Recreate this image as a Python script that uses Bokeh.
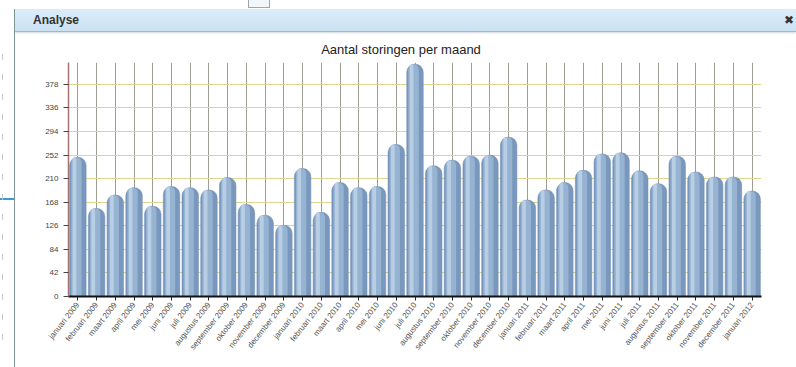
import math
from bokeh.plotting import figure
from bokeh.models import FactorRange, Range1d, FixedTicker, ColumnDataSource, Div
from bokeh.layouts import row, column
from bokeh.transform import dodge
from bokeh.embed import file_html
from bokeh.resources import INLINE

categories = [
    "januari 2009", "februari 2009", "maart 2009", "april 2009", "mei 2009", "juni 2009",
    "juli 2009", "augustus 2009", "september 2009", "oktober 2009", "november 2009", "december 2009",
    "januari 2010", "februari 2010", "maart 2010", "april 2010", "mei 2010", "juni 2010",
    "juli 2010", "augustus 2010", "september 2010", "oktober 2010", "november 2010", "december 2010",
    "januari 2011", "februari 2011", "maart 2011", "april 2011", "mei 2011", "juni 2011",
    "juli 2011", "augustus 2011", "september 2011", "oktober 2011", "november 2011", "december 2011",
    "januari 2012",
]
values = [248, 157, 181, 194, 161, 196, 194, 190, 212, 164, 145, 127,
          228, 150, 203, 194, 196, 271, 414, 233, 243, 250, 252, 284,
          172, 190, 203, 225, 254, 256, 224, 201, 250, 222, 213, 213,
          188]
y_ticks = [0, 42, 84, 126, 168, 210, 252, 294, 336, 378]
dialog_title = "Analyse"
chart_title = "Aantal storingen per maand"

W, H = 796, 367
LEFT_W = 15          # left strip width
HEAD_H = 62          # header (dialog bar + chart title) height
FIG_W, FIG_H = W - LEFT_W, H - HEAD_H
FL, FR, FB = 68, 761, 296  # frame edges in page px

src = ColumnDataSource(dict(x=categories, top=values))

p = figure(width=FIG_W, height=FIG_H, x_range=FactorRange(*categories), y_range=Range1d(0, 417),
           output_backend="svg", toolbar_location=None,
           min_border_left=FL - LEFT_W, min_border_right=W - FR, min_border_top=0,
           min_border_bottom=H - FB)
p.outline_line_color = None
p.background_fill_color = "white"
p.border_fill_color = "white"

# grid
p.xgrid.grid_line_color = "#8c8c7c"
p.xgrid.grid_line_alpha = 0.85
p.ygrid.grid_line_color = "#dcd690"
p.ygrid.ticker = FixedTicker(ticks=y_ticks)

# bars (cylinder-like shading)
p.vbar(x="x", top="top", width=0.88, source=src, fill_color="#7a98bd", line_color="#6c8bb0",
       line_width=0.5, border_radius=(8, 8, 0, 0))
p.vbar(x=dodge("x", -0.08, range=p.x_range), top="top", width=0.55, source=src,
       fill_color="#97b3d2", line_color=None, border_radius=(5, 5, 0, 0))
p.vbar(x=dodge("x", -0.18, range=p.x_range), top="top", width=0.2, source=src,
       fill_color="#b8cee4", line_color=None, border_radius=(2, 2, 0, 0))

# y axis
p.yaxis.ticker = FixedTicker(ticks=y_ticks)
p.yaxis.axis_line_color = "#a07272"
p.yaxis.axis_line_width = 1.5
p.yaxis.major_tick_in = 0
p.yaxis.major_tick_out = 5
p.yaxis.major_tick_line_color = "#444444"
p.yaxis.minor_tick_line_color = None
p.yaxis.major_label_text_font = "Liberation Sans"
p.yaxis.major_label_text_font_size = "8px"
p.yaxis.major_label_text_color = "#444444"
p.yaxis.major_label_standoff = 5

# x axis
p.xaxis.axis_line_color = "#111111"
p.xaxis.axis_line_width = 2
p.xaxis.major_tick_in = 0
p.xaxis.major_tick_out = 4
p.xaxis.major_tick_line_color = "#222222"
p.xaxis.major_label_orientation = 0.9
p.xaxis.major_label_text_font = "Liberation Sans"
p.xaxis.major_label_text_font_size = "8px"
p.xaxis.major_label_text_color = "#555555"
p.xaxis.major_label_standoff = 3

head_html = f"""
<div style="position:relative;width:{FIG_W}px;height:{HEAD_H}px;background:#ffffff;overflow:hidden;">
  <div style="position:absolute;left:233px;top:0px;width:22px;height:8px;border:1px solid #9aa6b0;border-top:none;background:#f3f6f9;"></div>
  <div style="position:absolute;left:0px;top:9px;width:{FIG_W}px;height:23px;
       background:linear-gradient(#dbedf9,#cbe2f4);border-bottom:1px solid #a7b6c4;
       box-shadow:0 1px 2px rgba(120,140,160,0.35);"></div>
  <div style="position:absolute;left:18px;top:12px;font-family:'Liberation Sans';font-weight:bold;
       font-size:12px;color:#333333;">{dialog_title}</div>
  <div style="position:absolute;left:769px;top:12px;font-family:'DejaVu Sans';font-weight:bold;
       font-size:12px;color:#333333;">&#x2716;</div>
  <div style="position:absolute;left:0px;top:41px;width:772px;text-align:center;
       font-family:'Liberation Sans';font-size:13px;color:#222222;">{chart_title}</div>
</div>
"""
head = Div(text=head_html, width=FIG_W, height=HEAD_H, margin=(0, 0, 0, 0))

left_html = f"""
<div style="position:relative;width:{LEFT_W}px;height:{H}px;background:#ffffff;overflow:hidden;">
  <div style="position:absolute;left:14px;top:9px;width:1px;height:{H - 9}px;background:#7f9494;"></div>
  <div style="position:absolute;left:0px;top:198px;width:14px;height:2px;background:#3a9ad8;"></div>
  <div style="position:absolute;left:2px;top:40px;width:1px;height:300px;
       background:repeating-linear-gradient(#ffffff 0px,#ffffff 14px,#c8c8c8 14px,#c8c8c8 20px);"></div>
</div>
"""
left = Div(text=left_html, width=LEFT_W, height=H, margin=(0, 0, 0, 0))

layout = row(left, column(head, p, spacing=0), spacing=0)

open("out.html", "w").write(file_html(layout, INLINE))
